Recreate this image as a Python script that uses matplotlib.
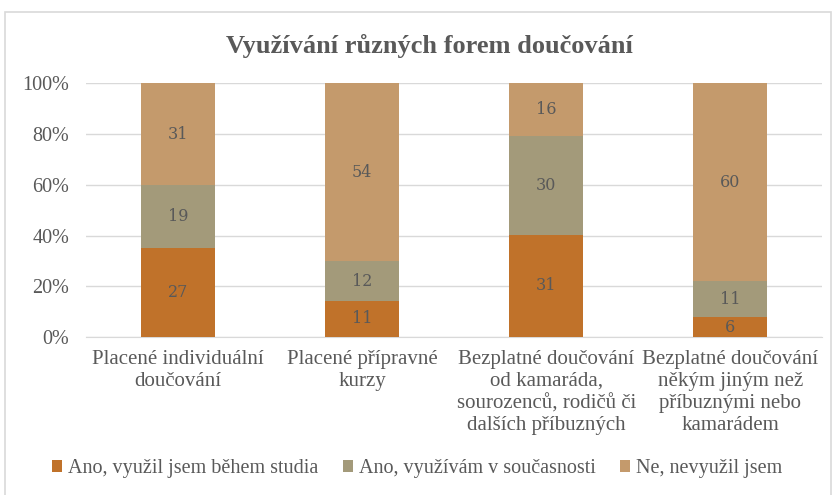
import numpy as np
import matplotlib
import matplotlib.pyplot as plt
from matplotlib.patches import Rectangle

matplotlib.use("Agg")

plt.rcParams['font.family'] = ['Liberation Serif', 'DejaVu Serif']

categories = ["Placené individuální\ndoučování",
              "Placené přípravné\nkurzy",
              "Bezplatné doučování\nod kamaráda,\nsourozenců, rodičů či\ndalších příbuzných",
              "Bezplatné doučování\nněkým jiným než\npříbuznými nebo\nkamarádem"]
series_names = ["Ano, využil jsem během studia", "Ano, využívám v současnosti", "Ne, nevyužil jsem"]
used_before = [27, 11, 31, 6]
using_now = [19, 12, 30, 11]
not_used = [31, 54, 16, 60]
colors = ["#C0722A", "#A39A7A", "#C49A6C"]

data = np.array([used_before, using_now, not_used], dtype=float)
totals = data.sum(axis=0)
shares = data / totals * 100

fig = plt.figure(figsize=(8.34, 4.95), dpi=100)
ax = fig.add_axes([0.103, 0.319, 0.883, 0.513])

# outer chart border
fig.patches.append(Rectangle((0.006, -0.01), 0.99, 0.985, transform=fig.transFigure,
                             fill=False, edgecolor="#D9D9D9", linewidth=1.2))

x = np.arange(len(categories))
bottom = np.zeros(len(categories))
for i in range(3):
    ax.bar(x, shares[i], 0.40, bottom=bottom, color=colors[i], label=series_names[i], zorder=3)
    for j in range(len(categories)):
        ax.text(x[j], bottom[j] + shares[i][j] / 2, str(int(data[i][j])), ha="center", va="center",
                fontsize=11.5, color="#595959", family=["DejaVu Serif"], zorder=4)
    bottom += shares[i]

ax.set_xlim(-0.5, 3.5)
ax.set_ylim(0, 100)
ax.set_yticks([0, 20, 40, 60, 80, 100])
ax.set_yticklabels(["%d%%" % v for v in [0, 20, 40, 60, 80, 100]], fontsize=14.5, color="#595959")
ax.yaxis.grid(True, color="#D9D9D9", linewidth=1, zorder=0)
ax.set_xticks(x)
ax.set_xticklabels(categories, fontsize=15, color="#595959", linespacing=1.22)
ax.tick_params(axis="x", length=0, pad=9)
ax.tick_params(axis="y", length=0, pad=12)
for s in ["top", "right", "left"]:
    ax.spines[s].set_visible(False)
ax.spines["bottom"].set_color("#D9D9D9")

fig.text(0.515, 0.907, "Využívání různých forem doučování", ha="center", va="center",
         fontsize=19, fontweight="bold", color="#595959")

fig.legend(loc="center", bbox_to_anchor=(0.5, 0.053), ncol=3, frameon=False,
           fontsize=14.5, handlelength=0.5, handleheight=0.5, handletextpad=0.3,
           columnspacing=1.2, labelcolor="#595959")

plt.savefig("out.png", dpi=100)
